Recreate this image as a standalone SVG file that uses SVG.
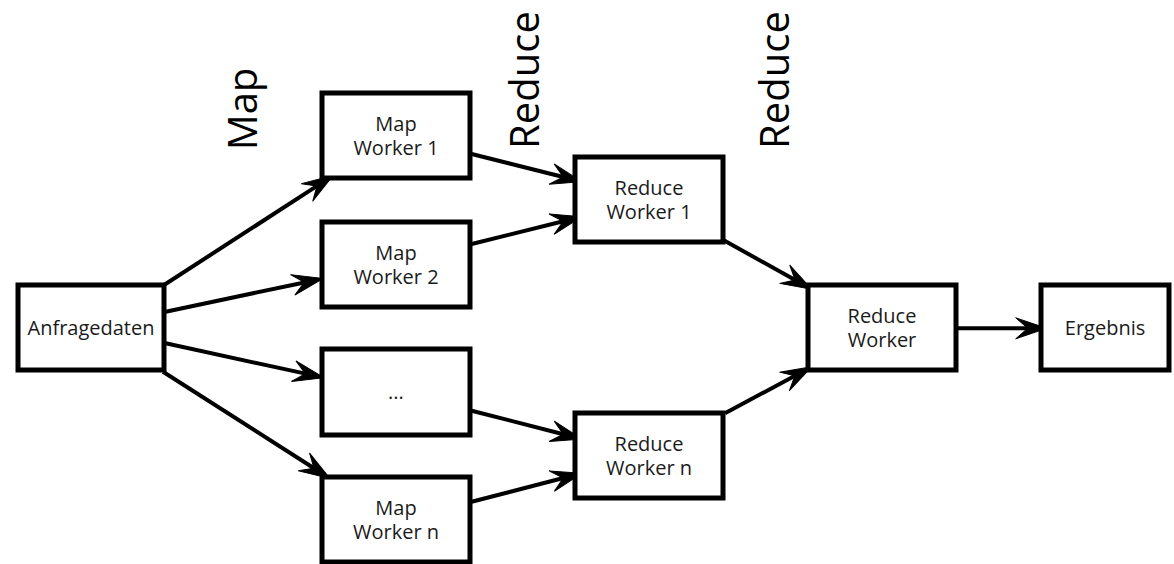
<svg xmlns="http://www.w3.org/2000/svg" width="1174" height="564" viewBox="0 0 1174 564">
  <defs>
    <style>
      .box { fill: #ffffff; stroke: #000000; stroke-width: 5; }
      .lbl { font-family: "Open Sans", "Noto Sans", "DejaVu Sans", sans-serif; font-size: 20px; fill: #1a1a1a; text-anchor: middle; }
      .stage { font-family: "Open Sans", "Noto Sans", "DejaVu Sans", sans-serif; font-size: 40px; fill: #000000; text-anchor: middle; }
      .edge { fill: none; stroke: #000000; stroke-width: 4; }
    </style>
    <!-- classic arrowhead; the line ends at the notch, the tip lies 19px further on -->
    <marker id="arrow" markerUnits="userSpaceOnUse" viewBox="-14 -12 36 24" refX="0" refY="0" markerWidth="36" markerHeight="24" orient="auto" overflow="visible">
      <path d="M19,0 L-12,-10.5 L0,0 L-12,10.5 Z" fill="#000000" stroke="#000000" stroke-width="1" stroke-linejoin="miter"/>
    </marker>
  </defs>

  <rect width="1174" height="564" fill="#ffffff"/>

  <!-- stage headings -->
  <text class="stage" transform="translate(257,109) rotate(-90)">Map</text>
  <text class="stage" transform="translate(539,80) rotate(-90)">Reduce</text>
  <text class="stage" transform="translate(789,80) rotate(-90)">Reduce</text>

  <!-- connectors -->
  <g id="connectors">
    <path class="edge" d="M164,285 L317.05,185.93" marker-end="url(#arrow)"/>
    <path class="edge" d="M165.7,311.7 L304.41,282.42" marker-end="url(#arrow)"/>
    <path class="edge" d="M165.7,343.3 L305.43,373.67" marker-end="url(#arrow)"/>
    <path class="edge" d="M163,371.7 L313.99,468.26" marker-end="url(#arrow)"/>
    <path class="edge" d="M471.7,154 L563.28,177.06" marker-end="url(#arrow)"/>
    <path class="edge" d="M471.7,244 L563.26,221.28" marker-end="url(#arrow)"/>
    <path class="edge" d="M471.7,410.7 L563.3,434.27" marker-end="url(#arrow)"/>
    <path class="edge" d="M471.7,501.7 L563.3,478.05" marker-end="url(#arrow)"/>
    <path class="edge" d="M723.3,240 L795.11,280.05" marker-end="url(#arrow)"/>
    <path class="edge" d="M725,413.3 L794.96,375.7" marker-end="url(#arrow)"/>
    <path class="edge" d="M955,328.3 L1027.7,328.3" marker-end="url(#arrow)"/>
  </g>

  <!-- nodes -->
  <g id="anfragedaten">
    <rect class="box" x="18" y="285" width="146" height="85"/>
    <text class="lbl" x="91" y="334.5">Anfragedaten</text>
  </g>
  <g id="map-worker-1">
    <rect class="box" x="322" y="93" width="148" height="85"/>
    <text class="lbl" x="396" y="130.5">Map</text>
    <text class="lbl" x="396" y="154.5">Worker 1</text>
  </g>
  <g id="map-worker-2">
    <rect class="box" x="322" y="222" width="148" height="85"/>
    <text class="lbl" x="396" y="259.5">Map</text>
    <text class="lbl" x="396" y="283.5">Worker 2</text>
  </g>
  <g id="map-worker-more">
    <rect class="box" x="322" y="349" width="148" height="86"/>
    <text class="lbl" x="396" y="399">...</text>
  </g>
  <g id="map-worker-n">
    <rect class="box" x="322" y="477" width="148" height="85"/>
    <text class="lbl" x="396" y="514.5">Map</text>
    <text class="lbl" x="396" y="538.5">Worker n</text>
  </g>
  <g id="reduce-worker-1">
    <rect class="box" x="575" y="157" width="148" height="85"/>
    <text class="lbl" x="649" y="194.5">Reduce</text>
    <text class="lbl" x="649" y="218.5">Worker 1</text>
  </g>
  <g id="reduce-worker-n">
    <rect class="box" x="575" y="413" width="148" height="85"/>
    <text class="lbl" x="649" y="450.5">Reduce</text>
    <text class="lbl" x="649" y="474.5">Worker n</text>
  </g>
  <g id="reduce-worker">
    <rect class="box" x="808" y="285" width="148" height="85"/>
    <text class="lbl" x="882" y="322.5">Reduce</text>
    <text class="lbl" x="882" y="346.5">Worker</text>
  </g>
  <g id="ergebnis">
    <rect class="box" x="1041" y="285" width="128" height="85"/>
    <text class="lbl" x="1105" y="334.5">Ergebnis</text>
  </g>
</svg>
